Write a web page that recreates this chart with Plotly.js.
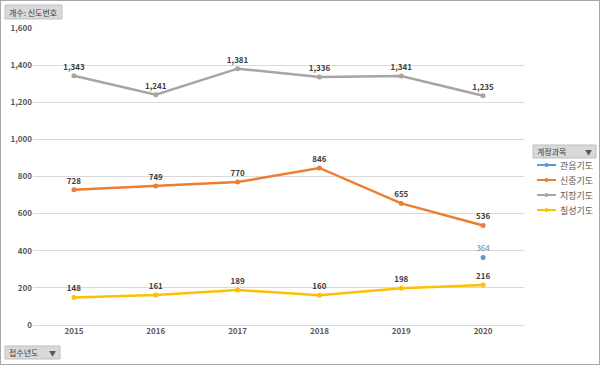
<!DOCTYPE html>
<html><head><meta charset="utf-8">
<script src="https://cdn.plot.ly/plotly-3.0.1.min.js"></script>
<style>
html,body{margin:0;padding:0;background:#fff;}
#wrap{position:relative;width:600px;height:365px;}
#chart{width:600px;height:365px;}
#frame{position:absolute;left:0;top:0;width:598px;height:363px;border:1px solid #a6a6a6;pointer-events:none;}
</style>
</head><body>
<div id="wrap"><div id="chart"></div><div id="frame"></div></div>
<script>
const years = ['2015','2016','2017','2018','2019','2020'];
const gwaneum = [null, null, null, null, null, 364];
const sinjung = [728, 749, 770, 846, 655, 536];
const jijang = [1343, 1241, 1381, 1336, 1341, 1235];
const chilseong = [148, 161, 189, 160, 198, 216];
const seriesNames = ['관음기도', '신중기도', '지장기도', '칠성기도'];
const colors = ['#5b9bd5', '#ed7d31', '#a5a5a5', '#ffc000'];
const yTicks = [0, 200, 400, 600, 800, 1000, 1200, 1400, 1600];

const font = '"Noto Sans CJK KR", "Noto Sans", sans-serif';
const M = {l: 33, r: 76, t: 28, b: 40};
const W = 600, H = 365;
const pw = W - M.l - M.r, ph = H - M.t - M.b;
const px = x => (x - M.l) / pw;
const py = y => (H - M.b - y) / ph;

const seriesVals = [gwaneum, sinjung, jijang, chilseong];
const traces = seriesVals.map((vals, i) => ({
  type: 'scatter',
  mode: 'lines+markers+text',
  x: years,
  y: vals,
  name: seriesNames[i],
  showlegend: false,
  line: {color: colors[i], width: 2.5},
  marker: {color: colors[i], size: 5},
  text: vals.map(v => v == null ? '' : v.toLocaleString('en-US')),
  textposition: 'top center',
  textfont: {family: font, size: 8, color: i === 0 ? '#7f7f7f' : '#404040', weight: i === 0 ? 'normal' : 'bold'},
  cliponaxis: false,
  hoverinfo: 'skip'
}));

const shapes = [
  {type: 'rect', xref: 'paper', yref: 'paper', x0: px(5), x1: px(62), y0: py(19), y1: py(5), fillcolor: '#d9d9d9', line: {color: '#bfbfbf', width: 1}},
  {type: 'rect', xref: 'paper', yref: 'paper', x0: px(5), x1: px(60), y0: py(359), y1: py(346), fillcolor: '#d9d9d9', line: {color: '#bfbfbf', width: 1}},
  {type: 'rect', xref: 'paper', yref: 'paper', x0: px(533), x1: px(596), y0: py(158), y1: py(145), fillcolor: '#d9d9d9', line: {color: '#bfbfbf', width: 1}}
];
const annotations = [
  {xref: 'paper', yref: 'paper', x: px(7), y: py(12), xanchor: 'left', yanchor: 'middle', showarrow: false, text: '개수: 신도번호', font: {family: font, size: 8, color: '#404040'}},
  {xref: 'paper', yref: 'paper', x: px(7), y: py(352.5), xanchor: 'left', yanchor: 'middle', showarrow: false, text: '접수년도', font: {family: font, size: 8, color: '#404040'}},
  {xref: 'paper', yref: 'paper', x: px(58), y: py(352.5), xanchor: 'right', yanchor: 'middle', showarrow: false, text: '▼', font: {family: font, size: 7, color: '#595959'}},
  {xref: 'paper', yref: 'paper', x: px(535), y: py(151.5), xanchor: 'left', yanchor: 'middle', showarrow: false, text: '계정과목', font: {family: font, size: 8, color: '#404040'}},
  {xref: 'paper', yref: 'paper', x: px(594), y: py(151.5), xanchor: 'right', yanchor: 'middle', showarrow: false, text: '▼', font: {family: font, size: 7, color: '#595959'}}
];
seriesNames.forEach((name, i) => {
  const yy = 165 + i * 15;
  shapes.push({type: 'line', xref: 'paper', yref: 'paper', x0: px(537), x1: px(556), y0: py(yy), y1: py(yy), line: {color: colors[i], width: 2}});
  shapes.push({type: 'circle', xref: 'paper', yref: 'paper', x0: px(544.5), x1: px(548.5), y0: py(yy + 2), y1: py(yy - 2), fillcolor: colors[i], line: {color: colors[i], width: 0}});
  annotations.push({xref: 'paper', yref: 'paper', x: px(558), y: py(yy), xanchor: 'left', yanchor: 'middle', showarrow: false, text: name, font: {family: font, size: 9, color: '#595959'}});
});

const layout = {
  width: W, height: H,
  margin: Object.assign({autoexpand: false}, M),
  paper_bgcolor: '#fff', plot_bgcolor: '#fff',
  showlegend: false,
  font: {family: font, size: 8, color: '#595959'},
  xaxis: {
    type: 'category', range: [-0.5, 5.5],
    showgrid: false, zeroline: false, showline: false, ticks: '',
    tickfont: {family: font, size: 8, color: '#595959', weight: 'bold'}
  },
  yaxis: {
    range: [0, 1600], tickvals: yTicks, tickformat: ',',
    showgrid: true, gridcolor: '#d9d9d9', gridwidth: 1,
    zeroline: true, zerolinecolor: '#d9d9d9', zerolinewidth: 1,
    showline: false, ticks: '',
    tickfont: {family: font, size: 8, color: '#595959', weight: 'bold'}
  },
  shapes: shapes,
  annotations: annotations
};

Plotly.newPlot('chart', traces, layout, {displayModeBar: false, staticPlot: true});
</script>
</body></html>
